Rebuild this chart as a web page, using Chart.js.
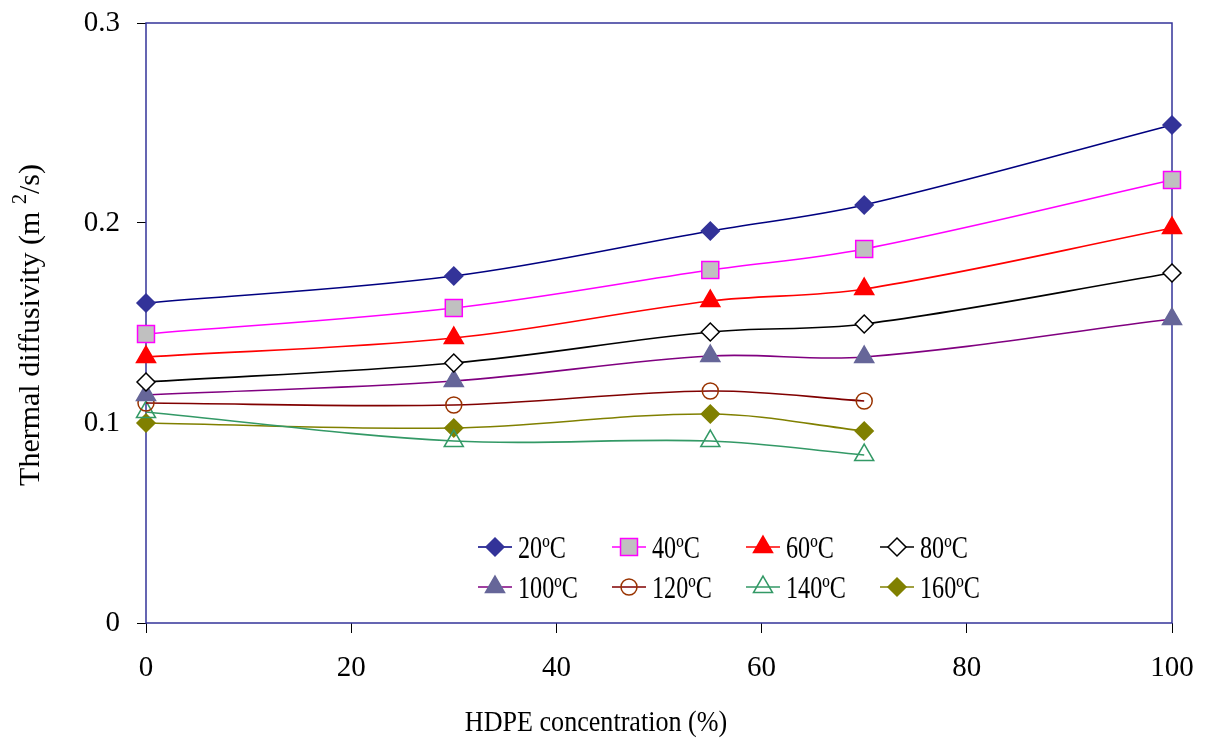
<!DOCTYPE html>
<html>
<head>
<meta charset="utf-8">
<script src="https://cdn.jsdelivr.net/npm/chart.js@4.4.1/dist/chart.umd.min.js"></script>
<style>
  html, body { margin: 0; padding: 0; background: #fff; }
  #wrap { width: 1205px; height: 738px; }
</style>
</head>
<body>
<div id="wrap"><canvas id="myChart"></canvas></div>
<script>
// Data
const hdpe = [0, 30, 55, 70, 100];
const xTicks = [0, 20, 40, 60, 80, 100];
const yTicks = [0, 0.1, 0.2, 0.3];
const seriesLabels = ['20ºC', '40ºC', '60ºC', '80ºC', '100ºC', '120ºC', '140ºC', '160ºC'];

const t20 = [0.160, 0.1735, 0.196, 0.209, 0.249];
const t40 = [0.1445, 0.1575, 0.1765, 0.187, 0.2215];
const t60 = [0.133, 0.1425, 0.161, 0.167, 0.1975];
const t80 = [0.1205, 0.130, 0.1455, 0.1495, 0.175];
const t100 = [0.114, 0.121, 0.1335, 0.133, 0.152];
const t120 = [0.110, 0.109, 0.116, 0.111];
const t140 = [0.1055, 0.091, 0.091, 0.084];
const t160 = [0.100, 0.0975, 0.1045, 0.096];

const serif = '"Liberation Serif", "Times New Roman", serif';

// styles
const styles = [
    { line: '#000080', fill: '#333399', edge: '#333399', shape: 'rectRot', r: 9 },
    { line: '#FF00FF', fill: '#C0C0C0', edge: '#FF00FF', shape: 'rect', r: 12 },
    { line: '#FF0000', fill: '#FF0000', edge: '#FF0000', shape: 'triangle', r: 11 },
    { line: '#000000', fill: '#FFFFFF', edge: '#000000', shape: 'rectRot', r: 9 },
    { line: '#800080', fill: '#666699', edge: '#666699', shape: 'triangle', r: 11 },
    { line: '#800000', fill: 'rgba(0,0,0,0)', edge: '#993300', shape: 'circle', r: 8 },
    { line: '#339966', fill: 'rgba(0,0,0,0)', edge: '#339966', shape: 'triangle', r: 11 },
    { line: '#808000', fill: '#808000', edge: '#808000', shape: 'rectRot', r: 9 }
];

const allValues = [t20, t40, t60, t80, t100, t120, t140, t160];

const datasets = allValues.map((vals, i) => ({
    label: seriesLabels[i],
    data: vals.map((v, j) => ({ x: hdpe[j], y: v })),
    borderColor: styles[i].line,
    borderWidth: 1.6,
    backgroundColor: styles[i].fill,
    pointStyle: styles[i].shape,
    pointRadius: styles[i].r,
    pointHoverRadius: styles[i].r,
    pointBackgroundColor: styles[i].fill,
    pointBorderColor: styles[i].edge,
    pointBorderWidth: 1.5,
    tension: 0.35,
    fill: false,
    clip: false
}));

function drawMarker(ctx, s, x, y) {
    const r = s.r;
    ctx.save();
    ctx.fillStyle = s.fill;
    ctx.strokeStyle = s.edge;
    ctx.lineWidth = 1.5;
    ctx.beginPath();
    if (s.shape === 'rectRot') {
        ctx.moveTo(x, y - r); ctx.lineTo(x + r, y); ctx.lineTo(x, y + r); ctx.lineTo(x - r, y);
        ctx.closePath();
    } else if (s.shape === 'rect') {
        const h = r * Math.SQRT1_2;
        ctx.rect(x - h, y - h, 2 * h, 2 * h);
    } else if (s.shape === 'triangle') {
        ctx.moveTo(x, y - r);
        ctx.lineTo(x + r * Math.cos(Math.PI / 6), y + r / 2);
        ctx.lineTo(x - r * Math.cos(Math.PI / 6), y + r / 2);
        ctx.closePath();
    } else {
        ctx.arc(x, y, r, 0, Math.PI * 2);
    }
    ctx.fill();
    ctx.stroke();
    ctx.restore();
}

function noPad(s) {
    s.paddingTop = 0; s.paddingBottom = 0; s.paddingLeft = 0; s.paddingRight = 0;
}

const extras = {
    id: 'extras',
    beforeDatasetsDraw(chart) {
        const { ctx, chartArea: a } = chart;
        ctx.save();
        ctx.strokeStyle = '#333399';
        ctx.lineWidth = 1.5;
        ctx.strokeRect(a.left, a.top, a.right - a.left, a.bottom - a.top);
        ctx.restore();
    },
    afterDraw(chart) {
        const ctx = chart.ctx;
        // legend
        ctx.save();
        chart.data.datasets.forEach((ds, i) => {
            const col = i % 4, row = Math.floor(i / 4);
            const x0 = 478 + col * 134;
            const y0 = 547 + row * 40;
            const s = styles[i];
            ctx.strokeStyle = s.line;
            ctx.lineWidth = 1.6;
            ctx.beginPath();
            ctx.moveTo(x0, y0);
            ctx.lineTo(x0 + 34, y0);
            ctx.stroke();
            drawMarker(ctx, s, x0 + 17, y0);
            ctx.save();
            ctx.translate(x0 + 40, y0 + 11);
            ctx.scale(0.78, 1);
            ctx.fillStyle = '#000';
            ctx.font = '31px ' + serif;
            ctx.textBaseline = 'alphabetic';
            ctx.textAlign = 'left';
            ctx.fillText(ds.label, 0, 0);
            ctx.restore();
        });
        ctx.restore();

        // x title
        ctx.save();
        ctx.translate(596, 731);
        ctx.scale(0.87, 1);
        ctx.fillStyle = '#000';
        ctx.font = '30px ' + serif;
        ctx.textAlign = 'center';
        ctx.textBaseline = 'alphabetic';
        ctx.fillText('HDPE concentration (%)', 0, 0);
        ctx.restore();

        // y title
        ctx.save();
        ctx.translate(39, 325);
        ctx.rotate(-Math.PI / 2);
        ctx.fillStyle = '#000';
        ctx.textBaseline = 'alphabetic';
        ctx.textAlign = 'left';
        const big = '30px ' + serif, small = '20px ' + serif;
        const p1 = 'Thermal diffusivity (m ', p2 = '2', p3 = '/s)';
        ctx.font = big; const w1 = ctx.measureText(p1).width; const w3 = ctx.measureText(p3).width;
        ctx.font = small; const w2 = ctx.measureText(p2).width;
        let x = -(w1 + w2 + w3) / 2;
        ctx.font = big; ctx.fillText(p1, x, 0); x += w1;
        ctx.font = small; ctx.fillText(p2, x, -13); x += w2;
        ctx.font = big; ctx.fillText(p3, x, 0);
        ctx.restore();
    }
};

const config = {
    type: 'line',
    data: { datasets: datasets },
    options: {
        responsive: true,
        maintainAspectRatio: false,
        animation: false,
        devicePixelRatio: 1,
        layout: { padding: { top: 23, right: 33, left: 0, bottom: 0 } },
        scales: {
            x: {
                type: 'linear',
                min: 0,
                max: 100,
                afterBuildTicks: s => { s.ticks = xTicks.map(v => ({ value: v })); },
                afterFit: s => { s.height = 115; noPad(s); },
                ticks: { color: '#000', font: { size: 29, family: serif }, padding: 18, maxRotation: 0 },
                grid: { drawOnChartArea: false, color: '#000', tickLength: 10, tickWidth: 1 },
                border: { display: false }
            },
            y: {
                min: 0,
                max: 0.3,
                afterBuildTicks: s => { s.ticks = yTicks.map(v => ({ value: v })); },
                afterFit: s => { s.width = 146; noPad(s); },
                ticks: {
                    color: '#000',
                    font: { size: 29, family: serif },
                    padding: 17,
                    callback: v => (v === 0 ? '0' : v.toFixed(1))
                },
                grid: { drawOnChartArea: false, color: '#000', tickLength: 9, tickWidth: 1 },
                border: { display: false }
            }
        },
        plugins: {
            legend: { display: false },
            tooltip: { enabled: false }
        }
    },
    plugins: [extras]
};

const myChart = new Chart(document.querySelector('#myChart'), config);
</script>
</body>
</html>
